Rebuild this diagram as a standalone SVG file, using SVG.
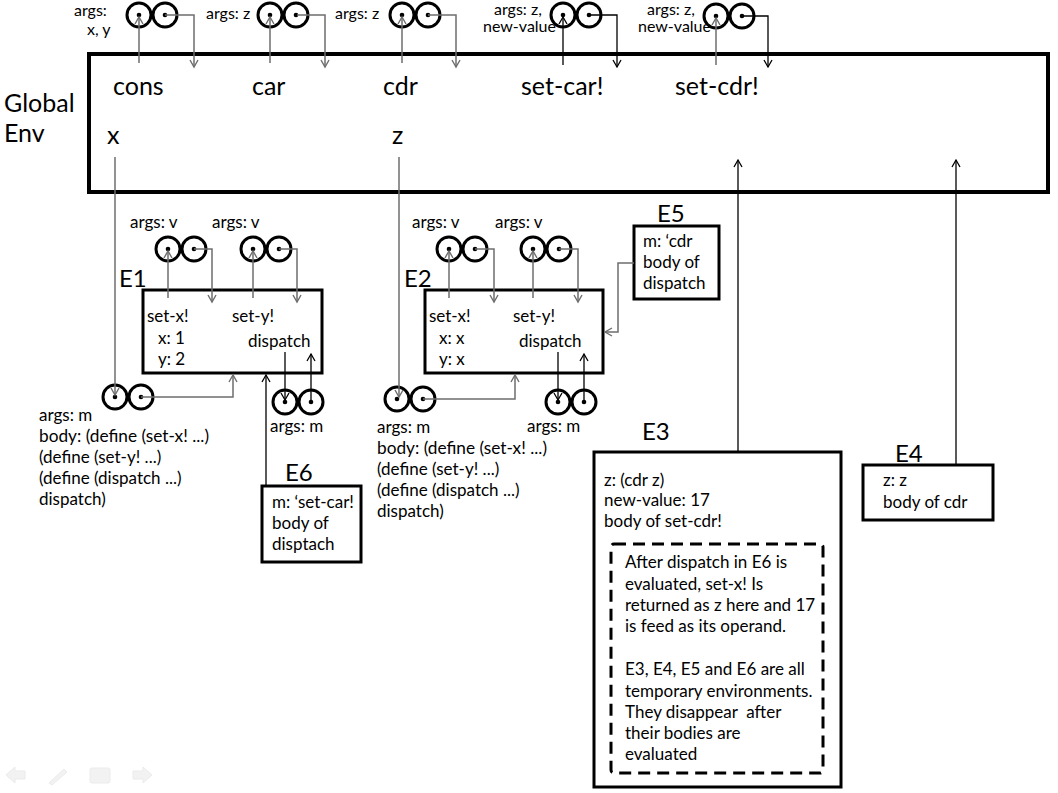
<svg xmlns="http://www.w3.org/2000/svg" width="1058" height="793" viewBox="0 0 1058 793">
<style>
text{font-family:Lato,"Open Sans","Liberation Sans",sans-serif;fill:#000}
.big{font-size:25px}
.lab{font-size:24px}
.m{font-size:17px}
.s{font-size:16px}
.box{fill:#fff;stroke:#000;stroke-width:3}
.gbox{fill:#fff;stroke:#000;stroke-width:4}
.c{fill:#fff;stroke:#000;stroke-width:3}
.d{fill:#000}
.g{fill:none;stroke:#6e6e6e;stroke-width:1.5}
.k{fill:none;stroke:#000;stroke-width:1.3}
.dash{fill:none;stroke:#000;stroke-width:3;stroke-dasharray:12 7}
.ic{fill:#f2f2f2;stroke:#ebebeb;stroke-width:1}
</style>
<defs>
<marker id="ag" viewBox="-10 -6 12 12" refX="0" refY="0" markerWidth="12" markerHeight="12" markerUnits="userSpaceOnUse" orient="auto"><path d="M-7,-4 L0,0 L-7,4" fill="none" stroke="#6e6e6e" stroke-width="1.4"/></marker>
<marker id="ak" viewBox="-10 -6 12 12" refX="0" refY="0" markerWidth="12" markerHeight="12" markerUnits="userSpaceOnUse" orient="auto"><path d="M-7,-4 L0,0 L-7,4" fill="none" stroke="#000" stroke-width="1.3"/></marker>
<g id="pair">
<circle class="c" cx="0" cy="0" r="12"/><circle class="c" cx="26" cy="0" r="12"/>
<circle class="d" cx="0" cy="0" r="2.3"/><circle class="d" cx="26" cy="0" r="2.3"/>
</g>
</defs>

<g id="global-env">
<rect class="gbox" x="89" y="54" width="959" height="138"/>
<text class="big" x="4" y="112">Global</text>
<text class="big" x="4" y="142">Env</text>
<text class="big" x="113" y="95">cons</text>
<text class="big" x="252" y="95">car</text>
<text class="big" x="383" y="95">cdr</text>
<text class="big" x="521" y="95">set-car!</text>
<text class="big" x="675" y="95">set-cdr!</text>
<text class="big" x="107" y="144">x</text>
<text class="big" x="392" y="144">z</text>
</g>

<g id="proc-cons">
<use href="#pair" x="139" y="15"/>
<text class="s" x="74" y="16">args:</text>
<text class="s" x="87" y="35">x, y</text>
</g>
<g id="proc-car">
<use href="#pair" x="270" y="15"/>
<text class="s" x="206" y="19">args: z</text>
</g>
<g id="proc-cdr">
<use href="#pair" x="402" y="15"/>
<text class="s" x="335" y="19">args: z</text>
</g>
<g id="proc-set-car">
<use href="#pair" x="563" y="15"/>
<text class="s"><tspan x="494" y="15">args: z,</tspan><tspan x="483" y="32">new-value</tspan></text>
</g>
<g id="proc-set-cdr">
<use href="#pair" x="716" y="16"/>
<text class="s"><tspan x="647" y="15">args: z,</tspan><tspan x="638" y="32">new-value</tspan></text>
</g>

<g id="E1">
<text class="lab" x="119" y="287">E1</text>
<rect class="box" x="143" y="290" width="179" height="83"/>
<text class="m" x="147" y="322">set-x!</text>
<text class="m" x="232" y="322">set-y!</text>
<text class="m" x="158" y="344">x: 1</text>
<text class="m" x="158" y="365">y: 2</text>
<text class="m" x="248" y="347">dispatch</text>
</g>
<g id="E1-set-x">
<use href="#pair" x="168" y="249"/>
<text class="m" x="130" y="228">args: v</text>
</g>
<g id="E1-set-y">
<use href="#pair" x="253" y="249"/>
<text class="m" x="212" y="228">args: v</text>
</g>
<g id="E1-lambda">
<use href="#pair" x="115" y="397"/>
<text class="m" x="39" y="421">args: m</text>
<text class="m" x="39" y="442" textLength="170" lengthAdjust="spacingAndGlyphs">body: (define (set-x! ...)</text>
<text class="m" x="39" y="463">(define (set-y! ...)</text>
<text class="m" x="39" y="484">(define (dispatch ...)</text>
<text class="m" x="39" y="505">dispatch)</text>
</g>
<g id="E1-dispatch">
<use href="#pair" x="285" y="402"/>
<text class="m" x="270" y="432">args: m</text>
</g>
<g id="E6">
<text class="lab" x="285" y="481">E6</text>
<rect class="box" x="262" y="486" width="99" height="76"/>
<text class="m" x="272" y="508">m: ‘set-car!</text>
<text class="m" x="272" y="529">body of</text>
<text class="m" x="272" y="550">disptach</text>
</g>

<g id="E2">
<text class="lab" x="404" y="287">E2</text>
<rect class="box" x="425" y="290" width="178" height="83"/>
<text class="m" x="429" y="322">set-x!</text>
<text class="m" x="513" y="322">set-y!</text>
<text class="m" x="439" y="344">x: x</text>
<text class="m" x="439" y="365">y: x</text>
<text class="m" x="519" y="347">dispatch</text>
</g>
<g id="E2-set-x">
<use href="#pair" x="449" y="249"/>
<text class="m" x="412" y="228">args: v</text>
</g>
<g id="E2-set-y">
<use href="#pair" x="533" y="249"/>
<text class="m" x="495" y="228">args: v</text>
</g>
<g id="E2-lambda">
<use href="#pair" x="397" y="399"/>
<text class="m" x="377" y="433">args: m</text>
<text class="m" x="377" y="454" textLength="170" lengthAdjust="spacingAndGlyphs">body: (define (set-x! ...)</text>
<text class="m" x="377" y="475">(define (set-y! ...)</text>
<text class="m" x="377" y="496">(define (dispatch ...)</text>
<text class="m" x="377" y="517">dispatch)</text>
</g>
<g id="E2-dispatch">
<use href="#pair" x="558" y="402"/>
<text class="m" x="527" y="432">args: m</text>
</g>
<g id="E5">
<text class="lab" x="657" y="222">E5</text>
<rect class="box" x="634" y="226" width="85" height="73"/>
<text class="m" x="643" y="247">m: ‘cdr</text>
<text class="m" x="643" y="268">body of</text>
<text class="m" x="643" y="289">dispatch</text>
</g>

<g id="E3">
<text class="lab" x="642" y="440">E3</text>
<rect class="box" x="594" y="452" width="247" height="335"/>
<text class="m" x="604" y="486">z: (cdr z)</text>
<text class="m" x="604" y="506">new-value: 17</text>
<text class="m" x="604" y="527">body of set-cdr!</text>
<rect class="dash" x="611" y="544" width="212" height="229" rx="3"/>
<text class="m" x="625" y="568">After dispatch in E6 is</text>
<text class="m" x="625" y="590">evaluated, set-x! Is</text>
<text class="m" x="625" y="611">returned as z here and 17</text>
<text class="m" x="625" y="632">is feed as its operand.</text>
<text class="m" x="625" y="675">E3, E4, E5 and E6 are all</text>
<text class="m" x="625" y="697">temporary environments.</text>
<text class="m" x="625" y="718" style="white-space:pre">They disappear  after</text>
<text class="m" x="625" y="739">their bodies are</text>
<text class="m" x="625" y="760">evaluated</text>
</g>
<g id="E4">
<text class="lab" x="895" y="462">E4</text>
<rect class="box" x="863" y="465" width="130" height="55"/>
<text class="m" x="883" y="486">z: z</text>
<text class="m" x="883" y="508">body of cdr</text>
</g>

<g id="connectors">
<path class="g" d="M139,63 V17" marker-end="url(#ag)"/>
<path class="g" d="M165,15 H194 V67" marker-end="url(#ag)"/>
<path class="g" d="M270,63 V17" marker-end="url(#ag)"/>
<path class="g" d="M297,15 H325 V67" marker-end="url(#ag)"/>
<path class="g" d="M402,63 V17" marker-end="url(#ag)"/>
<path class="g" d="M428,15 H456 V67" marker-end="url(#ag)"/>
<path class="k" d="M563,65 V17" marker-end="url(#ak)"/>
<path class="k" d="M590,15 H617 V67" marker-end="url(#ak)"/>
<path class="g" d="M716,65 V18" marker-end="url(#ag)"/>
<path class="k" d="M742,16 H768 V67" marker-end="url(#ak)"/>

<path class="g" d="M115,157 V395" marker-end="url(#ag)"/>
<path class="g" d="M399,157 V397" marker-end="url(#ag)"/>

<path class="g" d="M168,298 V251" marker-end="url(#ag)"/>
<path class="g" d="M194,249 H212 V302" marker-end="url(#ag)"/>
<path class="g" d="M253,298 V251" marker-end="url(#ag)"/>
<path class="g" d="M279,249 H297 V302" marker-end="url(#ag)"/>
<path class="g" d="M141,397 H233 V375" marker-end="url(#ag)"/>
<path class="k" d="M285,352 V400" marker-end="url(#ak)"/>
<path class="k" d="M311,402 V354" marker-end="url(#ak)"/>
<path class="k" d="M266,485 V375" marker-end="url(#ak)"/>

<path class="g" d="M449,298 V251" marker-end="url(#ag)"/>
<path class="g" d="M475,249 H494 V302" marker-end="url(#ag)"/>
<path class="g" d="M533,298 V251" marker-end="url(#ag)"/>
<path class="g" d="M559,249 H578 V302" marker-end="url(#ag)"/>
<path class="g" d="M423,399 H515 V375" marker-end="url(#ag)"/>
<path class="k" d="M558,352 V400" marker-end="url(#ak)"/>
<path class="k" d="M584,402 V354" marker-end="url(#ak)"/>
<path class="g" d="M634,263 H618 V332 H605" marker-end="url(#ag)"/>

<path class="k" d="M738,452 V160" marker-end="url(#ak)"/>
<path class="k" d="M956,465 V160" marker-end="url(#ak)"/>
</g>

<g id="slide-controls">
<path class="ic" d="M6,775 L15,767 L15,771 L25,771 L25,779 L15,779 L15,783 Z"/>
<path class="ic" d="M49,783 L64,769 L67,772 L52,785 Z"/>
<rect class="ic" x="90" y="768" width="20" height="15" rx="2"/>
<path class="ic" d="M152,775 L143,767 L143,771 L133,771 L133,779 L143,779 L143,783 Z"/>
</g>
</svg>
